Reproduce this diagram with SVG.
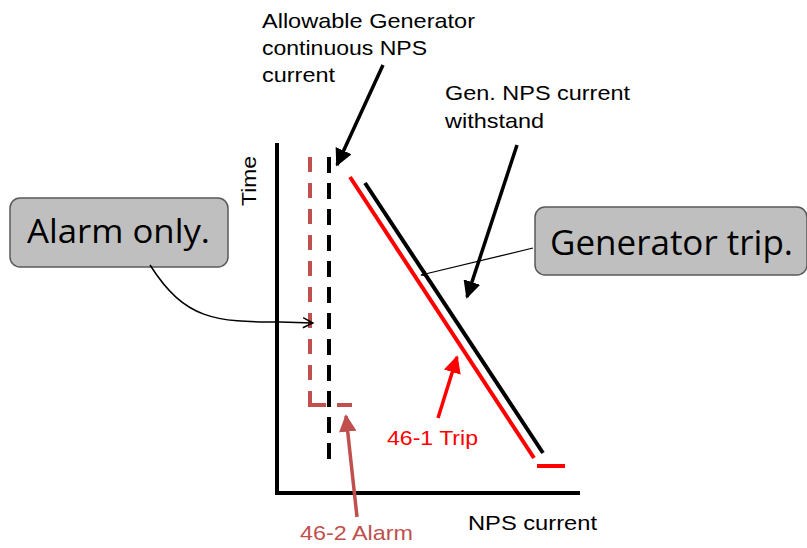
<svg xmlns="http://www.w3.org/2000/svg" width="807" height="548" viewBox="0 0 807 548">
<defs>
<style>
.t{font-family:"Liberation Sans",Arial,sans-serif;font-size:21px;fill:#000}
.box{fill:#BFBFBF;stroke:#595959;stroke-width:1.5}
.bt{font-family:"Open Sans","Noto Sans",sans-serif;fill:#000}
.ax{stroke:#000;stroke-width:4;fill:none}
</style>
<marker id="ah" viewBox="0 0 10 10" refX="9" refY="5" markerWidth="5" markerHeight="5" orient="auto" markerUnits="strokeWidth"><path d="M0,0 L10,5 L0,10 z" fill="#000"/></marker>
<marker id="ahr" viewBox="0 0 10 10" refX="9" refY="5" markerWidth="5" markerHeight="5" orient="auto" markerUnits="strokeWidth"><path d="M0,0 L10,5 L0,10 z" fill="#FF0000"/></marker>
<marker id="ahb" viewBox="0 0 10 10" refX="9" refY="5" markerWidth="5" markerHeight="5" orient="auto" markerUnits="strokeWidth"><path d="M0,0 L10,5 L0,10 z" fill="#C0504D"/></marker>
<marker id="open" viewBox="0 0 12 12" refX="11" refY="6" markerWidth="12" markerHeight="12" orient="auto" markerUnits="userSpaceOnUse"><path d="M1,1 L11,6 L1,11" fill="none" stroke="#000" stroke-width="1.5"/></marker>
</defs>
<rect width="807" height="548" fill="#fff"/>
<g id="axes">
<path class="ax" d="M277,143 V493 H580"/>
<text class="t" transform="translate(256,206) rotate(-90)" textLength="50" lengthAdjust="spacingAndGlyphs">Time</text>
<text class="t" x="468" y="530" textLength="129" lengthAdjust="spacingAndGlyphs">NPS current</text>
</g>
<g id="curves">
<line x1="310" y1="157" x2="310" y2="390" stroke="#C0504D" stroke-width="4" stroke-dasharray="15,11"/>
<path d="M310,391 V405 H326" fill="none" stroke="#C0504D" stroke-width="4"/>
<line x1="337" y1="405" x2="352" y2="405" stroke="#C0504D" stroke-width="4"/>
<line x1="329" y1="157" x2="329" y2="468" stroke="#000" stroke-width="4" stroke-dasharray="16,10"/>
<line x1="350" y1="177" x2="534" y2="458" stroke="#FF0000" stroke-width="4"/>
<line x1="365" y1="183" x2="543" y2="453" stroke="#000" stroke-width="4"/>
<line x1="537" y1="466" x2="565" y2="466" stroke="#FF0000" stroke-width="4"/>
</g>
<g id="alarm-only">
<rect class="box" x="10" y="198" width="218" height="69" rx="10"/>
<text class="bt" x="27" y="243" font-size="32" textLength="183" lengthAdjust="spacingAndGlyphs">Alarm only.</text>
</g>
<g id="generator-trip">
<rect class="box" x="535" y="207" width="272" height="68" rx="10"/>
<text class="bt" x="550" y="255" font-size="34" textLength="243" lengthAdjust="spacingAndGlyphs">Generator trip.</text>
</g>
<g id="labels">
<text class="t"><tspan x="262" y="28" textLength="213" lengthAdjust="spacingAndGlyphs">Allowable Generator</tspan><tspan x="262" y="55" textLength="165" lengthAdjust="spacingAndGlyphs">continuous NPS</tspan><tspan x="262" y="82" textLength="73" lengthAdjust="spacingAndGlyphs">current</tspan></text>
<text class="t"><tspan x="445" y="100" textLength="185" lengthAdjust="spacingAndGlyphs">Gen. NPS current</tspan><tspan x="445" y="128" textLength="99" lengthAdjust="spacingAndGlyphs">withstand</tspan></text>
<text class="t" x="387" y="445" style="fill:#FF0000" textLength="91" lengthAdjust="spacingAndGlyphs">46-1 Trip</text>
<text class="t" x="300" y="540" style="fill:#C0504D" textLength="113" lengthAdjust="spacingAndGlyphs">46-2 Alarm</text>
</g>
<g id="connectors">
<line x1="383" y1="65" x2="337" y2="165" stroke="#000" stroke-width="3.5" marker-end="url(#ah)"/>
<line x1="517" y1="145" x2="467" y2="297" stroke="#000" stroke-width="3.5" marker-end="url(#ah)"/>
<line x1="533" y1="248" x2="421" y2="275" stroke="#000" stroke-width="1.2" marker-end="url(#ah)"/>
<path d="M150,265 C185,320 215,322 280,322 L313,323" fill="none" stroke="#000" stroke-width="1.5" marker-end="url(#open)"/>
<line x1="438" y1="418" x2="457" y2="357" stroke="#FF0000" stroke-width="3.5" marker-end="url(#ahr)"/>
<line x1="357" y1="517" x2="346" y2="416" stroke="#C0504D" stroke-width="3.5" marker-end="url(#ahb)"/>
</g>
</svg>
